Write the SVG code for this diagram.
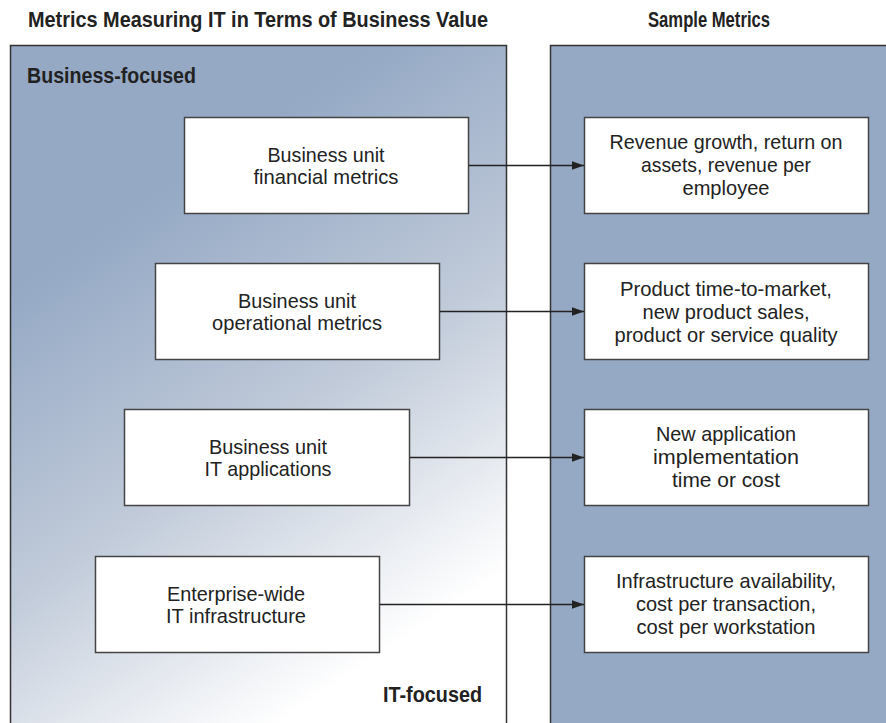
<svg xmlns="http://www.w3.org/2000/svg" width="886" height="723" viewBox="0 0 886 723">
<defs>
<linearGradient id="fade" gradientUnits="userSpaceOnUse" x1="138" y1="208" x2="420" y2="630">
<stop offset="0" stop-color="#95A9C5"/>
<stop offset="0.5" stop-color="#C0CAD9"/>
<stop offset="1" stop-color="#FFFFFF"/>
</linearGradient>
<marker id="arr" markerWidth="12" markerHeight="10" refX="12" refY="5" orient="auto" markerUnits="userSpaceOnUse">
<path d="M0,0.8 L12,5 L0,9.2 Z" fill="#222"/>
</marker>
</defs>
<style>
text{font-family:"Liberation Sans Narrow","Liberation Sans",Arial,sans-serif;fill:#222;}
.h{font-size:22px;font-weight:bold;}
.t{font-size:21px;text-anchor:middle;}
.box{fill:#fff;stroke:#444;stroke-width:1.5;}
.panel{stroke:#333;stroke-width:1.5;}
.conn line{stroke:#222;stroke-width:1.3;marker-end:url(#arr);}
</style>
<rect width="886" height="723" fill="#fff"/>
<g id="headers">
<text class="h" x="28" y="27" textLength="460" lengthAdjust="spacingAndGlyphs">Metrics Measuring IT in Terms of Business Value</text>
<text class="h" x="648" y="27" textLength="122" lengthAdjust="spacingAndGlyphs">Sample Metrics</text>
</g>
<g id="left-panel">
<rect class="panel" x="10.5" y="45.5" width="496" height="700" fill="url(#fade)"/>
<text class="h" x="27" y="83" textLength="169" lengthAdjust="spacingAndGlyphs">Business-focused</text>
<text class="h" x="383" y="702" textLength="99" lengthAdjust="spacingAndGlyphs">IT-focused</text>
</g>
<g id="right-panel">
<rect class="panel" x="550.5" y="45.5" width="400" height="700" fill="#95A9C5"/>
</g>
<g id="n-financial">
<rect class="box" x="184.5" y="117.5" width="284" height="96"/>
<text class="t" x="326" y="162" textLength="117" lengthAdjust="spacingAndGlyphs">Business unit</text>
<text class="t" x="326" y="184" textLength="145" lengthAdjust="spacingAndGlyphs">financial metrics</text>
</g>
<g id="n-operational">
<rect class="box" x="155.5" y="263.5" width="284" height="96"/>
<text class="t" x="297" y="308" textLength="118" lengthAdjust="spacingAndGlyphs">Business unit</text>
<text class="t" x="297" y="330" textLength="170" lengthAdjust="spacingAndGlyphs">operational metrics</text>
</g>
<g id="n-itapps">
<rect class="box" x="124.5" y="409.5" width="285" height="96"/>
<text class="t" x="268" y="454" textLength="118" lengthAdjust="spacingAndGlyphs">Business unit</text>
<text class="t" x="268" y="476" textLength="127" lengthAdjust="spacingAndGlyphs">IT applications</text>
</g>
<g id="n-infra">
<rect class="box" x="95.5" y="556.5" width="284" height="96"/>
<text class="t" x="236" y="601" textLength="138" lengthAdjust="spacingAndGlyphs">Enterprise-wide</text>
<text class="t" x="236" y="623" textLength="140" lengthAdjust="spacingAndGlyphs">IT infrastructure</text>
</g>
<g id="s-financial">
<rect class="box" x="584.5" y="117.5" width="284" height="96"/>
<text class="t" x="726" y="149" textLength="233" lengthAdjust="spacingAndGlyphs">Revenue growth, return on</text>
<text class="t" x="726" y="172" textLength="170" lengthAdjust="spacingAndGlyphs">assets, revenue per</text>
<text class="t" x="726" y="195" textLength="87" lengthAdjust="spacingAndGlyphs">employee</text>
</g>
<g id="s-operational">
<rect class="box" x="584.5" y="263.5" width="284" height="96"/>
<text class="t" x="726" y="296" textLength="212" lengthAdjust="spacingAndGlyphs">Product time-to-market,</text>
<text class="t" x="726" y="319" textLength="167" lengthAdjust="spacingAndGlyphs">new product sales,</text>
<text class="t" x="726" y="342" textLength="223" lengthAdjust="spacingAndGlyphs">product or service quality</text>
</g>
<g id="s-itapps">
<rect class="box" x="584.5" y="409.5" width="284" height="96"/>
<text class="t" x="726" y="441" textLength="140" lengthAdjust="spacingAndGlyphs">New application</text>
<text class="t" x="726" y="464" textLength="146" lengthAdjust="spacingAndGlyphs">implementation</text>
<text class="t" x="726" y="487" textLength="108" lengthAdjust="spacingAndGlyphs">time or cost</text>
</g>
<g id="s-infra">
<rect class="box" x="584.5" y="556.5" width="284" height="96"/>
<text class="t" x="726" y="588" textLength="220" lengthAdjust="spacingAndGlyphs">Infrastructure availability,</text>
<text class="t" x="726" y="611" textLength="180" lengthAdjust="spacingAndGlyphs">cost per transaction,</text>
<text class="t" x="726" y="634" textLength="179" lengthAdjust="spacingAndGlyphs">cost per workstation</text>
</g>
<g id="connectors" class="conn">
<line x1="469" y1="165.5" x2="584" y2="165.5"/>
<line x1="440" y1="311.5" x2="584" y2="311.5"/>
<line x1="410" y1="457.5" x2="584" y2="457.5"/>
<line x1="380" y1="604.5" x2="584" y2="604.5"/>
</g>
</svg>
